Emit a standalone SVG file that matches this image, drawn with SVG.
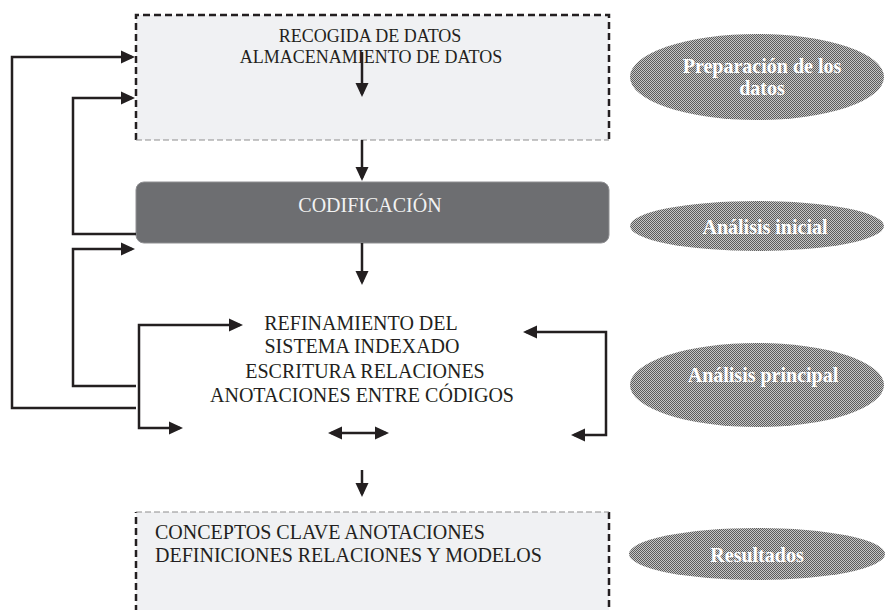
<svg xmlns="http://www.w3.org/2000/svg" width="885" height="610" viewBox="0 0 885 610">
<style>
.t{font-family:"Liberation Serif","Times New Roman",serif;fill:#231f20;}
.w{font-family:"Liberation Serif","Times New Roman",serif;fill:#f2f2f2;}
.e{font-family:"Liberation Serif","Times New Roman",serif;font-weight:bold;fill:#ffffff;font-size:20px;text-anchor:middle;}
.dk{stroke:#231f20;stroke-width:2.5;stroke-dasharray:7 4;fill:none;}
.lt{stroke:#8e8e8e;stroke-width:1.2;stroke-dasharray:6 3;fill:none;}
.c{stroke:#231f20;stroke-width:2.5;fill:none;marker-end:url(#ah);}
.cb{stroke:#231f20;stroke-width:2.5;fill:none;marker-start:url(#ah);marker-end:url(#ah);}
</style>
<defs>
<marker id="ah" viewBox="0 0 14 14" refX="11" refY="7" markerWidth="14" markerHeight="14" markerUnits="userSpaceOnUse" orient="auto-start-reverse">
<path d="M0,0.5 L14,7 L0,13.5 z" fill="#231f20"/>
</marker>
<pattern id="dots" width="2" height="2" patternUnits="userSpaceOnUse">
<rect width="2" height="2" fill="#c6c6c6"/>
<rect width="1" height="1" fill="#5c5c5c"/>
<rect x="1" y="1" width="1" height="1" fill="#5c5c5c"/>
</pattern>
</defs>
<rect width="885" height="610" fill="#ffffff"/>

<g id="node-recogida">
<rect x="136" y="15" width="473" height="125" fill="#f0f1f3"/>
<path class="dk" d="M136,140 V15 H609 V140"/>
<path class="lt" d="M136,140 H609"/>
<text class="t" x="370" y="42" font-size="18" text-anchor="middle">RECOGIDA DE DATOS</text>
<text class="t" x="371" y="63" font-size="18" text-anchor="middle">ALMACENAMIENTO DE DATOS</text>
</g>

<g id="node-codificacion">
<rect x="136" y="182" width="473" height="61" rx="8" ry="8" fill="#6d6e71" stroke="#8f8f92" stroke-width="1"/>
<text class="w" x="370" y="212" font-size="20" text-anchor="middle">CODIFICACIÓN</text>
</g>

<g id="node-refinamiento">
<text class="t" x="361" y="330" font-size="20" text-anchor="middle">REFINAMIENTO DEL</text>
<text class="t" x="362" y="353" font-size="20" text-anchor="middle">SISTEMA INDEXADO</text>
<text class="t" x="365" y="378" font-size="20" text-anchor="middle">ESCRITURA RELACIONES</text>
<text class="t" x="362" y="402" font-size="20" text-anchor="middle">ANOTACIONES ENTRE CÓDIGOS</text>
</g>

<g id="node-conceptos">
<rect x="136" y="512" width="473" height="100" fill="#f0f1f3"/>
<path class="dk" d="M136,612 V512"/>
<path class="dk" d="M609,512 V612"/>
<path class="lt" d="M136,512 H609"/>
<text class="t" x="155" y="539" font-size="20">CONCEPTOS CLAVE ANOTACIONES</text>
<text class="t" x="155" y="562" font-size="20">DEFINICIONES RELACIONES Y MODELOS</text>
</g>

<g id="node-preparacion">
<ellipse cx="757" cy="77" rx="127" ry="43" fill="url(#dots)"/>
<text class="e" x="762" y="73">Preparación de los</text>
<text class="e" x="762" y="95">datos</text>
</g>

<g id="node-analisis-inicial">
<ellipse cx="757" cy="226" rx="127" ry="25" fill="url(#dots)"/>
<text class="e" x="765" y="234">Análisis inicial</text>
</g>

<g id="node-analisis-principal">
<ellipse cx="757" cy="385" rx="127" ry="42" fill="url(#dots)"/>
<text class="e" x="763" y="382">Análisis principal</text>
</g>

<g id="node-resultados">
<ellipse cx="757" cy="554" rx="128" ry="26" fill="url(#dots)"/>
<text class="e" x="757" y="562" font-size="19">Resultados</text>
</g>

<g id="connectors">
<path class="c" d="M362,52 V94"/>
<path class="c" d="M362,140 V178"/>
<path class="c" d="M362,243 V282"/>
<path class="c" d="M362,470 V494"/>
<path class="c" d="M136,408 H12 V57 H132"/>
<path class="c" d="M136,234 H73 V98 H132"/>
<path class="c" d="M136,386 H73 V249 H132"/>
<path class="cb" d="M240,325 H139 V428 H180"/>
<path class="cb" d="M526,332 H606 V435 H574"/>
<path class="cb" d="M331,433 H386"/>
</g>
</svg>
